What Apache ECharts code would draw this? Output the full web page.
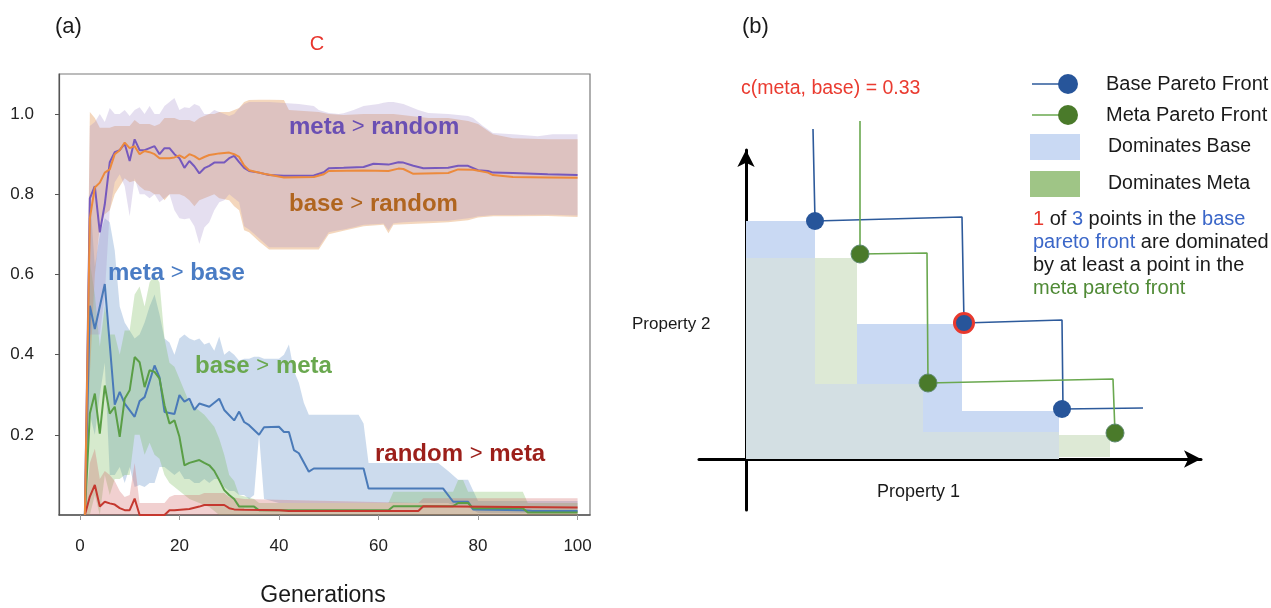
<!DOCTYPE html>
<html>
<head>
<meta charset="utf-8">
<script src="https://cdn.jsdelivr.net/npm/echarts@6/dist/echarts.min.js"></script>
<style>
html,body{margin:0;padding:0;background:#fff}
#chart{width:1271px;height:608px}
</style>
</head>
<body>
<div id="chart"></div>
<script>
// ---------- (a) pairwise C-metric over generations: [generation, mean] ----------
const metaOverRandom = [[1,0],[2,0.79],[3,0.82],[4,0.705],[5,0.775],[6,0.88],[7,0.905],[8,0.91],[9,0.926],[10,0.883],[11,0.937],[12,0.91],[13,0.91],[14,0.915],[15,0.92],[16,0.90],[17,0.915],[18,0.915],[19,0.90],[20,0.89],[21,0.866],[22,0.883],[23,0.87],[24,0.852],[25,0.865],[26,0.871],[27,0.879],[29,0.879],[30,0.89],[31,0.896],[32,0.88],[33,0.866],[34,0.858],[36,0.854],[38,0.848],[41,0.846],[47,0.847],[49,0.855],[50,0.865],[53,0.866],[57,0.868],[59,0.876],[62,0.874],[64,0.88],[65,0.879],[67,0.871],[69,0.865],[74,0.866],[76,0.871],[78,0.871],[80,0.86],[82,0.858],[83,0.854],[87,0.853],[94,0.85],[100,0.848]];
const baseOverRandom = [[1,0],[2,0.74],[3,0.817],[4,0.829],[5,0.854],[6,0.862],[7,0.90],[8,0.91],[9,0.929],[10,0.915],[11,0.92],[12,0.90],[13,0.908],[14,0.905],[15,0.90],[16,0.89],[18,0.89],[19,0.892],[20,0.897],[21,0.89],[22,0.90],[23,0.895],[24,0.887],[25,0.893],[26,0.898],[27,0.90],[28,0.902],[30,0.904],[31,0.90],[32,0.893],[33,0.872],[34,0.86],[35,0.857],[37,0.851],[41,0.842],[47,0.843],[49,0.85],[50,0.858],[57,0.859],[62,0.858],[64,0.864],[65,0.863],[67,0.851],[74,0.853],[76,0.862],[79,0.861],[82,0.854],[83,0.848],[87,0.843],[94,0.842],[100,0.841]];
const metaOverBase = [[1,0],[2,0.522],[3,0.464],[5,0.576],[7,0.275],[8,0.307],[9,0.278],[11,0.245],[12,0.284],[13,0.294],[15,0.373],[16,0.343],[17,0.257],[19,0.252],[20,0.299],[21,0.283],[22,0.29],[23,0.262],[24,0.278],[26,0.27],[28,0.29],[29,0.262],[31,0.236],[32,0.258],[33,0.232],[34,0.224],[36,0.2],[37,0.219],[40,0.22],[41,0.207],[42,0.207],[43,0.162],[44,0.154],[46,0.108],[47,0.116],[57,0.116],[58,0.066],[73,0.066],[75,0.033],[78,0.033],[79,0.014],[89,0.012],[91,0.01],[100,0.01]];
const baseOverMeta = [[1,0],[2,0.253],[3,0.303],[4,0.203],[5,0.323],[6,0.253],[7,0.27],[8,0.195],[9,0.29],[10,0.311],[11,0.394],[12,0.381],[13,0.319],[14,0.361],[15,0.357],[16,0.34],[17,0.274],[18,0.228],[19,0.236],[20,0.195],[21,0.124],[22,0.13],[24,0.137],[25,0.13],[26,0.124],[27,0.11],[28,0.087],[29,0.062],[30,0.05],[31,0.04],[32,0.021],[35,0.021],[36,0.012],[62,0.012],[63,0.022],[75,0.022],[76,0.03],[78,0.03],[79,0.017],[89,0.017],[90,0.006],[100,0.006]];
const randomOverMeta = [[1,0],[2,0.046],[3,0.075],[4,0.021],[5,0.033],[6,0.029],[7,0.026],[8,0.017],[9,0.012],[10,0.012],[11,0.041],[12,0],[17,0],[18,0.012],[19,0.012],[22,0.015],[24,0.021],[25,0.025],[29,0.025],[30,0.017],[31,0.014],[33,0.013],[40,0.012],[42,0.01],[68,0.01],[69,0.022],[100,0.019]];

// spread around each mean: [generation, lower, upper]
const metaOverRandomBand = [[1,0,0],[2,0.45,0.97],[3,0.45,0.98],[4,0.45,1.0],[5,0.55,0.98],[6,0.76,1.015],[7,0.83,1.0],[8,0.85,1.0],[9,0.82,1.01],[10,0.745,0.995],[11,0.84,1.01],[12,0.80,1.017],[13,0.80,1.0],[14,0.79,1.02],[15,0.80,1.0],[16,0.78,1.0],[17,0.79,1.02],[18,0.80,1.03],[19,0.76,1.04],[20,0.74,1.01],[21,0.738,1.017],[22,0.74,1.015],[23,0.72,1.025],[24,0.676,1.02],[25,0.717,1.0],[26,0.73,1.0],[27,0.76,1.01],[28,0.78,1.005],[29,0.785,1.0],[30,0.80,0.995],[31,0.79,1.0],[32,0.78,1.015],[33,0.72,1.025],[34,0.712,1.03],[36,0.69,1.03],[38,0.668,1.03],[44,0.668,1.025],[47,0.668,1.02],[48,0.668,1.01],[50,0.705,1.003],[52,0.71,1.0],[53,0.712,1.002],[55,0.718,1.01],[57,0.724,1.02],[60,0.726,1.025],[61,0.727,1.028],[62,0.71,1.03],[63,0.728,1.03],[65,0.73,1.025],[68,0.732,1.01],[70,0.733,1.003],[74,0.734,1.0],[78,0.74,0.995],[79,0.742,0.99],[80,0.745,0.98],[81,0.746,0.97],[83,0.748,0.953],[87,0.748,0.95],[92,0.749,0.945],[95,0.749,0.95],[100,0.747,0.95]];
const baseOverRandomBand = [[1,0,0],[2,0.35,1.005],[3,0.6,0.99],[4,0.72,0.966],[5,0.75,0.966],[6,0.76,0.966],[7,0.80,0.97],[8,0.82,0.97],[9,0.84,0.97],[10,0.83,0.97],[11,0.834,0.985],[12,0.82,0.975],[13,0.81,0.975],[14,0.808,0.975],[15,0.80,0.97],[16,0.80,0.975],[17,0.785,0.99],[18,0.80,0.99],[19,0.80,0.99],[20,0.80,0.985],[21,0.795,0.985],[22,0.785,0.985],[23,0.77,0.98],[24,0.785,0.99],[25,0.79,0.995],[26,0.795,1.0],[27,0.80,1.0],[28,0.79,1.005],[30,0.785,1.005],[31,0.77,1.01],[32,0.76,1.015],[33,0.71,1.03],[34,0.705,1.035],[36,0.682,1.036],[38,0.662,1.036],[41,0.662,1.035],[42,0.662,1.01],[48,0.662,1.005],[50,0.70,1.0],[53,0.709,0.998],[57,0.72,1.0],[61,0.724,1.0],[62,0.703,1.0],[63,0.724,1.0],[70,0.728,0.99],[74,0.73,0.99],[78,0.735,0.983],[80,0.742,0.975],[83,0.745,0.95],[87,0.745,0.94],[94,0.746,0.937],[100,0.743,0.937]];
const metaOverBaseBand = [[1,0,0],[2,0.25,0.80],[3,0.2,0.62],[4,0.3,0.70],[5,0.38,0.74],[6,0.1,0.73],[7,0.1,0.66],[8,0.12,0.52],[9,0.08,0.48],[10,0.12,0.46],[11,0.07,0.44],[12,0.075,0.45],[13,0.07,0.48],[14,0.08,0.52],[15,0.08,0.55],[16,0.12,0.50],[17,0.12,0.44],[18,0.11,0.43],[19,0.10,0.40],[20,0.11,0.44],[21,0.09,0.45],[22,0.09,0.44],[23,0.08,0.435],[24,0.08,0.44],[25,0.09,0.425],[26,0.08,0.43],[27,0.09,0.41],[28,0.09,0.445],[29,0.07,0.40],[30,0.06,0.41],[31,0.06,0.40],[32,0.05,0.385],[33,0.05,0.39],[34,0.04,0.39],[35,0.05,0.395],[36,0.2,0.395],[37,0.04,0.39],[40,0.03,0.39],[41,0.03,0.40],[42,0.03,0.425],[43,0.03,0.36],[44,0.03,0.33],[45,0.03,0.28],[46,0.03,0.25],[56,0.03,0.25],[57,0.03,0.228],[58,0.03,0.13],[72,0.03,0.13],[74,0.03,0.11],[76,0.02,0.088],[78,0.02,0.088],[80,0.005,0.035],[100,0.005,0.035]];
const baseOverMetaBand = [[1,0,0],[2,0,0.63],[3,0.05,0.55],[4,0,0.42],[5,0.10,0.52],[6,0.05,0.45],[7,0.09,0.45],[8,0.09,0.40],[9,0.10,0.46],[10,0.10,0.46],[11,0.2,0.55],[12,0.2,0.57],[13,0.15,0.52],[14,0.18,0.58],[15,0.15,0.60],[16,0.14,0.58],[17,0.10,0.44],[18,0.08,0.38],[19,0.07,0.37],[20,0.06,0.34],[21,0.05,0.31],[22,0.04,0.28],[24,0.03,0.26],[25,0.025,0.25],[26,0.02,0.235],[27,0.01,0.22],[28,0,0.19],[29,0,0.15],[30,0,0.10],[31,0,0.085],[32,0,0.05],[35,0,0.04],[36,0,0.03],[62,0,0.03],[63,0,0.058],[75,0,0.058],[76,0,0.087],[77,0,0.087],[78,0,0.058],[89,0,0.058],[90,0,0.03],[100,0,0.03]];
const randomOverMetaBand = [[1,0,0],[2,0,0.13],[3,0,0.165],[4,0,0.09],[5,0,0.11],[6,0,0.10],[7,0,0.085],[8,0,0.06],[9,0,0.045],[10,0,0.05],[11,0,0.13],[12,0,0.03],[17,0,0.03],[18,0,0.045],[19,0,0.05],[24,0,0.05],[25,0,0.055],[29,0,0.055],[30,0,0.045],[33,0,0.04],[68,0,0.03],[69,0,0.042],[100,0,0.042]];

const genTicks = [0, 20, 40, 60, 80, 100];
const valueTicks = [0.2, 0.4, 0.6, 0.8, 1.0];

// ---------- (b) schematic of the C-metric between two pareto fronts ----------
// objective values (property 1, property 2)
const basePoints = [[69,238],[218,136],[316,50]];
const metaPoints = [[114,205],[182,76],[369,26]];
// attainment surfaces including their open ends
const baseSteps = [[67,330],[69,238],[216,242],[218,136],[316,139],[317,50],[397,51]];
const metaSteps = [[114,338],[114,205],[181,206],[182,76],[367,80],[369,26]];
// dominated regions: [x0, x1, y0, y1, kind] kind 0 = base only, 1 = meta only, 2 = both
const regions = [
  [0,69,201,238,0],[0,69,0,201,2],[69,111,75,201,1],[111,216,75,135,0],
  [69,177,0,75,2],[177,216,27,75,0],[216,313,27,48,0],[177,313,0,27,2],[313,364,2,24,1]
];
const regionColors = ['#c9d9f3', '#dde9d5', '#d3dfe3'];

const FONT = "'Liberation Sans', Arial, sans-serif";
const colors = {
  purple: '#7659bd', orange: '#ec8a3c', blue: '#4a7ab8', green: '#5a9e46', red: '#c5382f'
};

function bandSeries(band, fill) {
  return {
    type: 'custom', xAxisIndex: 0, yAxisIndex: 0, z: 1, silent: true, clip: true,
    data: band,
    renderItem(params, api) {
      if (params.dataIndex !== 0) return null;
      const upper = band.map(d => api.coord([d[0], d[2]]));
      const lower = band.map(d => api.coord([d[0], d[1]])).reverse();
      return { type: 'polygon', shape: { points: upper.concat(lower) }, style: { fill } };
    }
  };
}
function meanSeries(data, color) {
  return {
    type: 'line', xAxisIndex: 0, yAxisIndex: 0, z: 3, data, showSymbol: false, silent: true,
    lineStyle: { color, width: 2 }
  };
}
function label(x, y, a, b, color) {
  return {
    type: 'text', z: 100, x, y,
    style: {
      text: '{w|' + a + ' }{c|>}{w| ' + b + '}', verticalAlign: 'middle', align: 'left',
      rich: {
        w: { fontFamily: FONT, fontSize: 24, fontWeight: 'bold', fill: color },
        c: { fontFamily: FONT, fontSize: 22, fontWeight: 'normal', fill: color }
      }
    }
  };
}
function txt(x, y, text, size, fill, align) {
  return { type: 'text', z: 100, x, y, style: { text, fontFamily: FONT, fontSize: size, fill: fill || '#1a1a1a', align: align || 'left', verticalAlign: 'middle' } };
}

const chart = echarts.init(document.getElementById('chart'), null, { renderer: 'canvas' });
chart.setOption({
  animation: false,
  backgroundColor: '#fff',
  grid: [
    { left: 59, top: 74, width: 531, height: 441, show: true, borderColor: '#7a7a7a', borderWidth: 1.2, backgroundColor: 'transparent' },
    { left: 699, top: 150, width: 502, height: 360 }
  ],
  xAxis: [
    {
      gridIndex: 0, type: 'value', min: -4.2, max: 102.5,
      splitLine: { show: false },
      axisLine: { show: true, onZero: false, lineStyle: { color: '#555', width: 1.5 } },
      axisTick: { show: true, customValues: genTicks, length: 5, lineStyle: { color: '#999' } },
      axisLabel: { customValues: genTicks, fontFamily: FONT, fontSize: 17, color: '#222', margin: 23 }
    },
    {
      gridIndex: 1, type: 'value', min: -47, max: 455,
      splitLine: { show: false }, axisTick: { show: false }, axisLabel: { show: false },
      axisLine: { show: true, onZero: true, symbol: ['none', 'arrow'], symbolSize: [13, 17], lineStyle: { color: '#000', width: 3 } }
    }
  ],
  yAxis: [
    {
      gridIndex: 0, type: 'value', min: 0, max: 1.1,
      splitLine: { show: false },
      axisLine: { show: true, onZero: false, lineStyle: { color: '#555', width: 1.2 } },
      axisTick: { show: true, customValues: valueTicks, length: 4, lineStyle: { color: '#555' } },
      axisLabel: { customValues: valueTicks, formatter: v => v.toFixed(1), fontFamily: FONT, fontSize: 17, color: '#222', margin: 25 }
    },
    {
      gridIndex: 1, type: 'value', min: -51, max: 309,
      splitLine: { show: false }, axisTick: { show: false }, axisLabel: { show: false },
      axisLine: { show: true, onZero: true, symbol: ['none', 'arrow'], symbolSize: [13, 17], lineStyle: { color: '#000', width: 3 } }
    }
  ],
  series: [
    bandSeries(metaOverBaseBand, 'rgba(100,145,200,0.33)'),
    bandSeries(baseOverMetaBand, 'rgba(120,185,90,0.3)'),
    bandSeries(randomOverMetaBand, 'rgba(210,100,100,0.3)'),
    bandSeries(baseOverRandomBand, 'rgba(220,130,50,0.32)'),
    bandSeries(metaOverRandomBand, 'rgba(160,140,200,0.28)'),
    meanSeries(metaOverBase, colors.blue),
    meanSeries(baseOverMeta, colors.green),
    meanSeries(randomOverMeta, colors.red),
    meanSeries(metaOverRandom, colors.purple),
    meanSeries(baseOverRandom, colors.orange),

    {
      type: 'custom', xAxisIndex: 1, yAxisIndex: 1, z: 1, silent: true,
      data: regions,
      renderItem(params, api) {
        const p0 = api.coord([api.value(0), api.value(3)]);
        const p1 = api.coord([api.value(1), api.value(2)]);
        return {
          type: 'rect',
          shape: { x: p0[0], y: p0[1], width: p1[0] - p0[0], height: p1[1] - p0[1] },
          style: { fill: regionColors[regions[params.dataIndex][4]] }
        };
      }
    },
    {
      type: 'line', xAxisIndex: 1, yAxisIndex: 1, z: 3, clip: false, silent: true,
      data: baseSteps, showSymbol: false, lineStyle: { color: '#2d5a9b', width: 1.6 }
    },
    {
      type: 'line', xAxisIndex: 1, yAxisIndex: 1, z: 3, clip: false, silent: true,
      data: metaSteps, showSymbol: false, lineStyle: { color: '#6aa84f', width: 1.6 }
    },
    {
      type: 'scatter', xAxisIndex: 1, yAxisIndex: 1, z: 4, clip: false, silent: true, symbolSize: 18,
      itemStyle: { color: '#27559a', opacity: 1 },
      data: basePoints.map((p, i) => i === 1
        ? { value: p, symbolSize: 19, itemStyle: { borderColor: '#e8392e', borderWidth: 3 } }
        : { value: p })
    },
    {
      type: 'scatter', xAxisIndex: 1, yAxisIndex: 1, z: 4, clip: false, silent: true, symbolSize: 18,
      itemStyle: { color: '#4a7a2a', opacity: 1, borderColor: '#5f8a70', borderWidth: 1 },
      data: metaPoints
    }
  ],
  graphic: [
    txt(55, 27, '(a)', 22),
    txt(317, 44, 'C', 20, '#e8342c', 'center'),
    txt(323, 596, 'Generations', 23, '#1a1a1a', 'center'),
    label(289, 127, 'meta', 'random', '#6a4fb3'),
    label(289, 204, 'base', 'random', '#b0651f'),
    label(108, 273, 'meta', 'base', '#4a7cc4'),
    label(195, 366, 'base', 'meta', '#6aa84f'),
    label(375, 454, 'random', 'meta', '#9c1f1a'),

    txt(742, 27, '(b)', 22),
    txt(741, 89, 'c(meta, base) = 0.33', 19.5, '#ea3b30'),
    txt(632, 324, 'Property 2', 17),
    txt(877, 492, 'Property 1', 18),

    { type: 'line', z: 100, shape: { x1: 1032, y1: 84, x2: 1068, y2: 84 }, style: { stroke: '#2d5a9b', lineWidth: 1.6 } },
    { type: 'circle', z: 101, shape: { cx: 1068, cy: 84, r: 10 }, style: { fill: '#27559a' } },
    txt(1106, 84, 'Base Pareto Front', 20),
    { type: 'line', z: 100, shape: { x1: 1032, y1: 115, x2: 1068, y2: 115 }, style: { stroke: '#6aa84f', lineWidth: 1.6 } },
    { type: 'circle', z: 101, shape: { cx: 1068, cy: 115, r: 10 }, style: { fill: '#4a7a2a' } },
    txt(1106, 115, 'Meta Pareto Front', 20),
    { type: 'rect', z: 100, shape: { x: 1030, y: 134, width: 50, height: 26 }, style: { fill: '#c9d9f3' } },
    txt(1108, 147, 'Dominates Base', 19.5),
    { type: 'rect', z: 100, shape: { x: 1030, y: 171, width: 50, height: 26 }, style: { fill: '#9fc586' } },
    txt(1108, 184, 'Dominates Meta', 19.5),
    {
      type: 'text', z: 100, x: 1033, y: 208,
      style: {
        text: '{r|1} of {b|3} points in the {b|base}\n{b|pareto front} are dominated\nby at least a point in the\n{g|meta pareto front}',
        fontFamily: FONT, fontSize: 20, fill: '#1a1a1a', lineHeight: 23, align: 'left', verticalAlign: 'top',
        rich: {
          r: { fill: '#e8392e', fontFamily: FONT, fontSize: 20, lineHeight: 23 },
          b: { fill: '#3a66c8', fontFamily: FONT, fontSize: 20, lineHeight: 23 },
          g: { fill: '#4f8a35', fontFamily: FONT, fontSize: 20, lineHeight: 23 }
        }
      }
    }
  ]
});
</script>
</body>
</html>
